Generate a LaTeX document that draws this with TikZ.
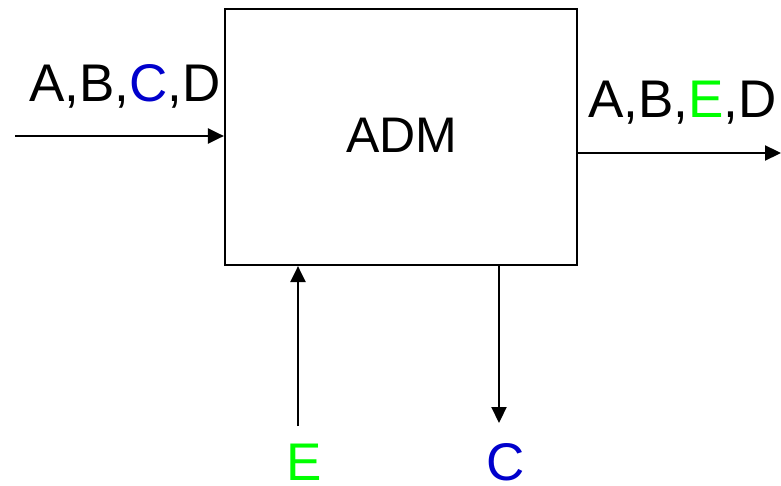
\documentclass[tikz,border=0pt]{standalone}
\usepackage{fontspec}
\setmainfont{Liberation Sans}
\usetikzlibrary{arrows.meta,calc}
\definecolor{cblue}{RGB}{0,0,204}
\definecolor{egreen}{RGB}{0,255,0}
\begin{document}
\begin{tikzpicture}[x=1pt,y=1pt,
  conn/.style={line width=2.2pt,-{Triangle[length=16pt,width=15pt]}},
  lbl/.style={inner sep=0pt,font=\fontsize{53}{60}\selectfont},
  boxst/.style={draw,line width=2.2pt,minimum width=352pt,minimum height=256pt,inner sep=0pt}]
\useasboundingbox (0,0) rectangle (781,485);
\node[boxst] (adm) at (401,348) {};
\node[inner sep=0pt,anchor=base,font=\fontsize{50}{58}\selectfont] (admt) at (402,332) {ADM};
\coordinate (inS) at (15,349);
\coordinate (outE) at (781,332);
\coordinate (eS) at (298,59);
\coordinate (cE) at (499,62);
\draw[conn] (inS) -- (inS -| adm.west);
\draw[conn] (adm.east |- outE) -- (outE);
\draw[conn] (eS) -- (eS |- adm.south);
\draw[conn] (cE |- adm.south) -- (cE);
\node[lbl,anchor=base west] (lin) at (29,383) {A,B,\textcolor{cblue}{C},D};
\node[lbl,anchor=base west] (lout) at (588,367) {A,B,\textcolor{egreen}{E},D};
\node[lbl,anchor=base,text=egreen] (le) at (304,5) {E};
\node[lbl,anchor=base,text=cblue] (lc) at (506,5) {C};
\end{tikzpicture}
\end{document}
